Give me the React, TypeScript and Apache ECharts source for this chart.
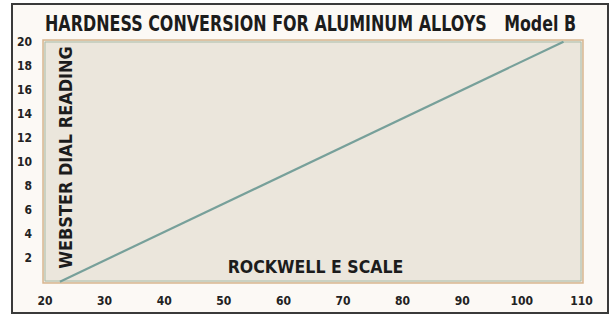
import React, { useEffect, useRef } from "react";
import * as echarts from "echarts";

const xTicks = [20, 30, 40, 50, 60, 70, 80, 90, 100, 110];
const yTicks = [2, 4, 6, 8, 10, 12, 14, 16, 18, 20];
const rockwellE = [22.5, 107];
const websterB = [0, 20];

const TITLE = "HARDNESS CONVERSION FOR ALUMINUM ALLOYS";
const MODEL = "Model B";
const X_NAME = "ROCKWELL E SCALE";
const Y_NAME = "WEBSTER DIAL READING";

const FONT = "'DejaVu Sans Condensed', 'DejaVu Sans', sans-serif";
const INK = "#1c1c1c";

export default function App() {
  const ref = useRef<HTMLDivElement>(null);
  useEffect(() => {
    if (!ref.current) return;
    const chart = echarts.init(ref.current, null, { renderer: "svg" });
    const data = rockwellE.map((x, i) => [x, websterB[i]]);
    chart.setOption({
      animation: false,
      backgroundColor: "#ffffff",
      graphic: [
        {
          type: "rect",
          shape: { x: 12, y: 4, width: 596, height: 309 },
          style: { fill: "#fcf9f5", stroke: "#3a3a3a", lineWidth: 2 },
          z: -10,
        },
        {
          type: "rect",
          shape: { x: 45, y: 42, width: 536, height: 239 },
          style: { fill: "none", stroke: "#a9bca8", lineWidth: 1 },
          z: 1,
        },
        {
          type: "text",
          x: 45,
          y: 24,
          scaleX: 0.865,
          style: {
            text: TITLE,
            fontFamily: FONT,
            fontWeight: "bold",
            fontSize: 20.5,
            fill: INK,
            textAlign: "left",
            textVerticalAlign: "middle",
          },
          z: 5,
        },
        {
          type: "text",
          x: 576,
          y: 24,
          scaleX: 0.86,
          style: {
            text: MODEL,
            fontFamily: FONT,
            fontWeight: "bold",
            fontSize: 20.5,
            fill: INK,
            textAlign: "right",
            textVerticalAlign: "middle",
          },
          z: 5,
        },
        {
          type: "text",
          x: 315.5,
          y: 266,
          scaleX: 0.95,
          style: {
            text: X_NAME,
            fontFamily: FONT,
            fontWeight: "bold",
            fontSize: 18.5,
            fill: INK,
            textAlign: "center",
            textVerticalAlign: "middle",
          },
          z: 5,
        },
        {
          type: "text",
          x: 65,
          y: 157.5,
          rotation: Math.PI / 2,
          scaleX: 0.97,
          style: {
            text: Y_NAME,
            fontFamily: FONT,
            fontWeight: "bold",
            fontSize: 18.5,
            fill: INK,
            textAlign: "center",
            textVerticalAlign: "middle",
          },
          z: 5,
        },
      ],
      grid: {
        left: 43,
        right: 28,
        top: 40,
        bottom: 33,
        outerBoundsMode: "none",
        show: true,
        backgroundColor: "#ebe6dc",
        borderColor: "#d8b690",
        borderWidth: 1.5,
      },
      xAxis: {
        type: "value",
        min: 19.66,
        max: 110.27,
        axisLine: { show: false },
        axisTick: { show: false },
        splitLine: { show: false },
        axisLabel: {
          customValues: xTicks,
          margin: 12,
          fontFamily: FONT,
          fontWeight: "bold",
          fontSize: 12,
          color: "#222222",
        },
      },
      yAxis: {
        type: "value",
        min: -0.11,
        max: 20.14,
        axisLine: { show: false },
        axisTick: { show: false },
        splitLine: { show: false },
        axisLabel: {
          customValues: yTicks,
          margin: 11,
          fontFamily: FONT,
          fontWeight: "bold",
          fontSize: 12,
          color: "#222222",
        },
      },
      series: [
        {
          type: "line",
          data,
          symbol: "none",
          lineStyle: { color: "#77a09a", width: 2.2 },
          z: 3,
        },
      ],
    });
    return () => chart.dispose();
  }, []);
  return (
    <div
      ref={ref}
      style={{ position: "absolute", left: 0, top: 0, width: 611, height: 316 }}
    />
  );
}
